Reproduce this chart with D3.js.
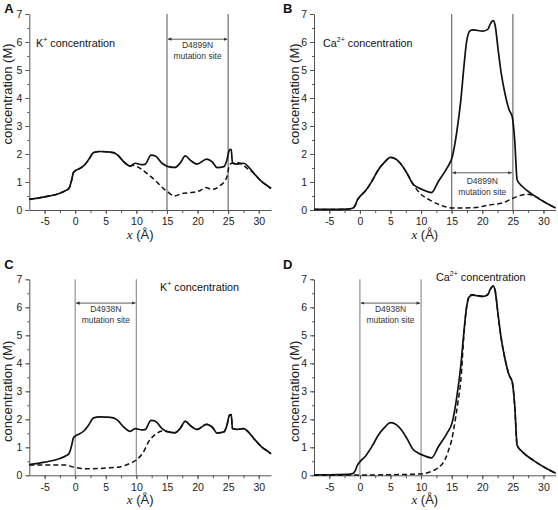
<!DOCTYPE html>
<html>
<head>
<meta charset="utf-8">
<script src="https://cdn.jsdelivr.net/npm/d3@7"></script>
<style>
  body { margin: 0; background: #fff; }
  svg { display: block; font-family: "Liberation Sans", Arial, sans-serif; }
</style>
</head>
<body>
<svg id="chart" width="558" height="510"></svg>
<script>
// ---------- DATA ----------
// K+ concentration, wild type (solid, panels A and C)
const kWildX = [-7.5,-5,-2.5,-1.5,-1,-0.6,-0.3,0,0.8,1.5,2.2,3,4,5,6.2,7,7.9,9,9.8,10.9,11.4,12.4,13.1,14.2,15.2,16.3,17.2,18,18.8,19.9,21.5,22.4,23.2,24.3,24.8,25.2,25.5,25.7,26.5,27.5,28.5,29.2,30.5,31.5,32];
const kWildY = [0.38,0.47,0.6,0.7,0.78,1.05,1.33,1.4,1.49,1.6,1.8,2.05,2.09,2.08,2.05,1.95,1.73,1.57,1.67,1.62,1.63,1.96,1.93,1.67,1.55,1.52,1.69,1.93,1.78,1.64,1.82,1.72,1.51,1.55,1.79,2.14,2.17,1.67,1.64,1.67,1.5,1.31,1.01,0.85,0.77];
// K+ concentration, D4899N mutant (dashed, panel A)
const kD4899NX = [-7.5,-5,-2.5,-1.5,-1,-0.6,-0.3,0,0.8,1.5,2.2,3,4,5,6.2,7,7.9,9,9.4,10.1,11.7,13.3,14.4,15.1,16.3,17.2,18.8,20.4,21.3,22.4,23.7,24.8,25.2,25.6,26.7,28.1,29.2,30.5,31.5,32];
const kD4899NY = [0.38,0.47,0.6,0.7,0.78,1.05,1.33,1.4,1.49,1.6,1.8,2.05,2.09,2.08,2.05,1.95,1.73,1.57,1.6,1.55,1.31,1.01,0.77,0.65,0.5,0.57,0.62,0.69,0.8,0.74,0.87,1.19,1.6,1.67,1.69,1.49,1.31,1.01,0.85,0.77];
// K+ concentration, D4938N mutant (dashed, panel C)
const kD4938NX = [-7.5,-1.4,-0.6,0.2,1.9,5.1,7.3,9,10,11.2,12,13.1,14.2,15.3,16.3,17.2,18,18.8,19.9,21.5,22.4,23.2,24.3,24.8,25.2,25.5,25.7,26.5,27.5,28.5,29.2,30.5,31.5,32];
const kD4938NY = [0.37,0.37,0.31,0.27,0.23,0.26,0.3,0.43,0.55,0.85,1.2,1.46,1.58,1.56,1.52,1.69,1.93,1.78,1.64,1.82,1.72,1.51,1.55,1.79,2.14,2.17,1.67,1.64,1.67,1.5,1.31,1.01,0.85,0.77];

// Ca2+ concentration, wild type (solid, panels B and D)
const caWildX = [-7.5,-5,-2,-1.2,-0.8,-0.4,0,1,2,3,4,5,6,6.6,7.7,8.7,9.5,10.4,11.7,12.8,14.2,15.1,15.8,16.5,17,17.4,18,18.5,20.1,20.9,21.3,21.8,22.1,22.6,23.1,23.7,24.4,24.9,25.3,25.7,26.6,28.3,30.5,32];
const caWildY = [0.02,0.02,0.03,0.06,0.15,0.36,0.48,0.71,1.04,1.43,1.7,1.88,1.8,1.67,1.31,0.92,0.8,0.71,0.62,1.01,1.49,1.9,2.74,3.93,5.12,5.95,6.4,6.43,6.39,6.45,6.64,6.76,6.6,5.71,4.88,4.17,3.57,3.33,2.5,1.07,0.83,0.54,0.24,0.07];
// Ca2+ concentration, D4899N mutant (dashed, panel B)
const caD4899NX = [-7.5,-5,-2,-1.2,-0.8,-0.4,0,1,2,3,4,5,6,6.6,7.7,8.7,9.8,11.4,13.1,15.2,18.5,21.2,23.4,25,27.2,28.3,29.5,30.5,32];
const caD4899NY = [0.02,0.02,0.03,0.06,0.15,0.36,0.48,0.71,1.04,1.43,1.7,1.88,1.8,1.67,1.31,0.92,0.6,0.36,0.18,0.07,0.08,0.18,0.26,0.42,0.56,0.52,0.38,0.24,0.07];
// Ca2+ concentration, D4938N mutant (dashed, panel D)
const caD4938NX = [-7.5,0,5,10,12,13,14,14.5,15,15.5,16,16.5,17,17.4,18,18.5,20.1,20.9,21.3,21.8,22.1,22.6,23.1,23.7,24.4,24.9,25.3,25.7,26.6,28.3,30.5,32];
const caD4938NY = [0.0,0.01,0.02,0.05,0.17,0.3,0.6,0.9,1.26,1.86,2.57,3.4,5.0,5.95,6.45,6.45,6.39,6.45,6.64,6.76,6.6,5.71,4.88,4.17,3.57,3.33,2.5,1.07,0.83,0.54,0.24,0.07];

// axis ticks
const xTicks = [-5, 0, 5, 10, 15, 20, 25, 30];
const yTicks = [0, 1, 2, 3, 4, 5, 6, 7];

// panel texts
const panelLetters = ["A", "B", "C", "D"];
const ionLabels = [["K", "+"], ["Ca", "2+"], ["K", "+"], ["Ca", "2+"]];
const siteNames = ["D4899N", "D4899N", "D4938N", "D4938N"];
const siteBounds = [[15, 25], [15, 25], [0, 10], [0, 10]];

// ---------- DRAWING ----------
const svg = d3.select("#chart");
const W = 241.7, H = 196;
const layouts = [
  {left: 29.3, top: 14, arrowY: 6.1, textY: [5.8, 5.4], ion: {x: 36, y: 47}, ylab: 80, ylx: -17.5, vcol: "#777"},
  {left: 314,  top: 14, arrowY: 1.33, textY: [0.92, 0.52], ion: {x: 323, y: 47}, ylab: 80, ylx: -15.5, vcol: "#777"},
  {left: 29.3, top: 279.3, arrowY: 6.15, textY: [5.82, 5.45], ion: {x: 160, y: 291}, ylab: 112, ylx: -17.5, vcol: "#999"},
  {left: 314,  top: 279.3, arrowY: 6.15, textY: [5.82, 5.45], ion: {x: 436, y: 281}, ylab: 112, ylx: -15.5, vcol: "#999"}
];
const seriesSets = [
  [[kWildX, kWildY], [kD4899NX, kD4899NY]],
  [[caWildX, caWildY], [caD4899NX, caD4899NY]],
  [[kWildX, kWildY], [kD4938NX, kD4938NY]],
  [[caWildX, caWildY], [caD4938NX, caD4938NY]]
];

const defs = svg.append("defs");
defs.append("marker").attr("id", "arr").attr("viewBox", "0 0 10 10")
  .attr("refX", 9).attr("refY", 5).attr("markerWidth", 5).attr("markerHeight", 5)
  .attr("orient", "auto-start-reverse")
  .append("path").attr("d", "M0,1 L10,5 L0,9 z").attr("fill", "#333");

const fmt = d => String(d);

layouts.forEach((L, i) => {
  const g = svg.append("g").attr("transform", `translate(${L.left},${L.top})`);
  const x = d3.scaleLinear().domain([-7.5, 32]).range([0, W]);
  const y = d3.scaleLinear().domain([0, 7]).range([H, 0]);

  // minor ticks
  g.append("g").attr("transform", `translate(0,${H})`)
    .call(d3.axisBottom(x).tickValues(d3.range(-5, 32.1, 2.5)).tickSize(3).tickFormat(""))
    .call(a => a.select(".domain").remove())
    .selectAll("line").attr("stroke", "#555");
  g.append("g")
    .call(d3.axisLeft(y).tickValues(d3.range(0, 7.01, 0.5)).tickSize(2).tickFormat(""))
    .call(a => a.select(".domain").remove())
    .selectAll("line").attr("stroke", "#555");

  const xa = g.append("g").attr("transform", `translate(0,${H})`)
    .call(d3.axisBottom(x).tickValues(xTicks).tickSize(4).tickPadding(4).tickSizeOuter(0).tickFormat(fmt));
  const ya = g.append("g")
    .call(d3.axisLeft(y).tickValues(yTicks).tickSize(4).tickPadding(3).tickSizeOuter(0).tickFormat(fmt));
  [xa, ya].forEach(a => {
    a.select(".domain").attr("stroke", "#555");
    a.selectAll("line").attr("stroke", "#555");
    a.selectAll("text").attr("fill", "#222").style("font-size", "10.5px")
      .style("font-family", "'Liberation Sans', Arial, sans-serif");
  });

  // region lines
  const [b0, b1] = siteBounds[i];
  [b0, b1].forEach(b => {
    g.append("line").attr("x1", x(b)).attr("x2", x(b)).attr("y1", 0).attr("y2", H)
      .attr("stroke", L.vcol).attr("stroke-width", 1.3);
  });
  g.append("line").attr("x1", x(b0) + 1).attr("x2", x(b1) - 1)
    .attr("y1", y(L.arrowY)).attr("y2", y(L.arrowY))
    .attr("stroke", "#333").attr("stroke-width", 0.8)
    .attr("marker-start", "url(#arr)").attr("marker-end", "url(#arr)");
  const cx = (x(b0) + x(b1)) / 2;
  g.append("text").attr("x", cx).attr("y", y(L.textY[0])).attr("text-anchor", "middle")
    .style("font-size", "8.5px").attr("fill", "#333").text(siteNames[i]);
  g.append("text").attr("x", cx).attr("y", y(L.textY[1])).attr("text-anchor", "middle")
    .style("font-size", "8.5px").attr("fill", "#333").text("mutation site");

  // data lines
  const line = d3.line().x(d => x(d[0])).y(d => y(d[1])).curve(d3.curveMonotoneX);
  const [solid, dashed] = seriesSets[i];
  g.append("path").datum(dashed[0].map((v, k) => [v, dashed[1][k]]))
    .attr("d", line).attr("fill", "none").attr("stroke", "#111")
    .attr("stroke-width", 1.5).attr("stroke-dasharray", "5,3");
  g.append("path").datum(solid[0].map((v, k) => [v, solid[1][k]]))
    .attr("d", line).attr("fill", "none").attr("stroke", "#111")
    .attr("stroke-width", 1.7);

  // axis titles
  const xt = g.append("text").attr("x", W / 2 - 10).attr("y", H + 29).attr("text-anchor", "middle")
    .style("font-size", "13px").attr("fill", "#222");
  xt.append("tspan").style("font-family", "'Liberation Serif', 'Times New Roman', serif")
    .style("font-style", "italic").text("x");
  xt.append("tspan").text(" (Å)");
  g.append("text").attr("transform", `translate(${L.ylx},${L.ylab}) rotate(-90)`)
    .attr("text-anchor", "middle").style("font-size", "13px").attr("fill", "#222")
    .text("concentration (M)");

  // panel letter
  svg.append("text").attr("x", L.left - (i % 2 ? 31 : 25)).attr("y", L.top - (i < 2 ? 1 : 10))
    .style("font-size", "13px").style("font-weight", "bold").attr("fill", "#111")
    .text(panelLetters[i]);

  // ion label
  const t = svg.append("text").attr("x", L.ion.x).attr("y", L.ion.y)
    .style("font-size", "10.8px").attr("fill", "#111");
  t.append("tspan").text(ionLabels[i][0]);
  t.append("tspan").attr("dy", -5).style("font-size", "7px").text(ionLabels[i][1]);
  t.append("tspan").attr("dy", 5).text(" concentration");
});
</script>
</body>
</html>
